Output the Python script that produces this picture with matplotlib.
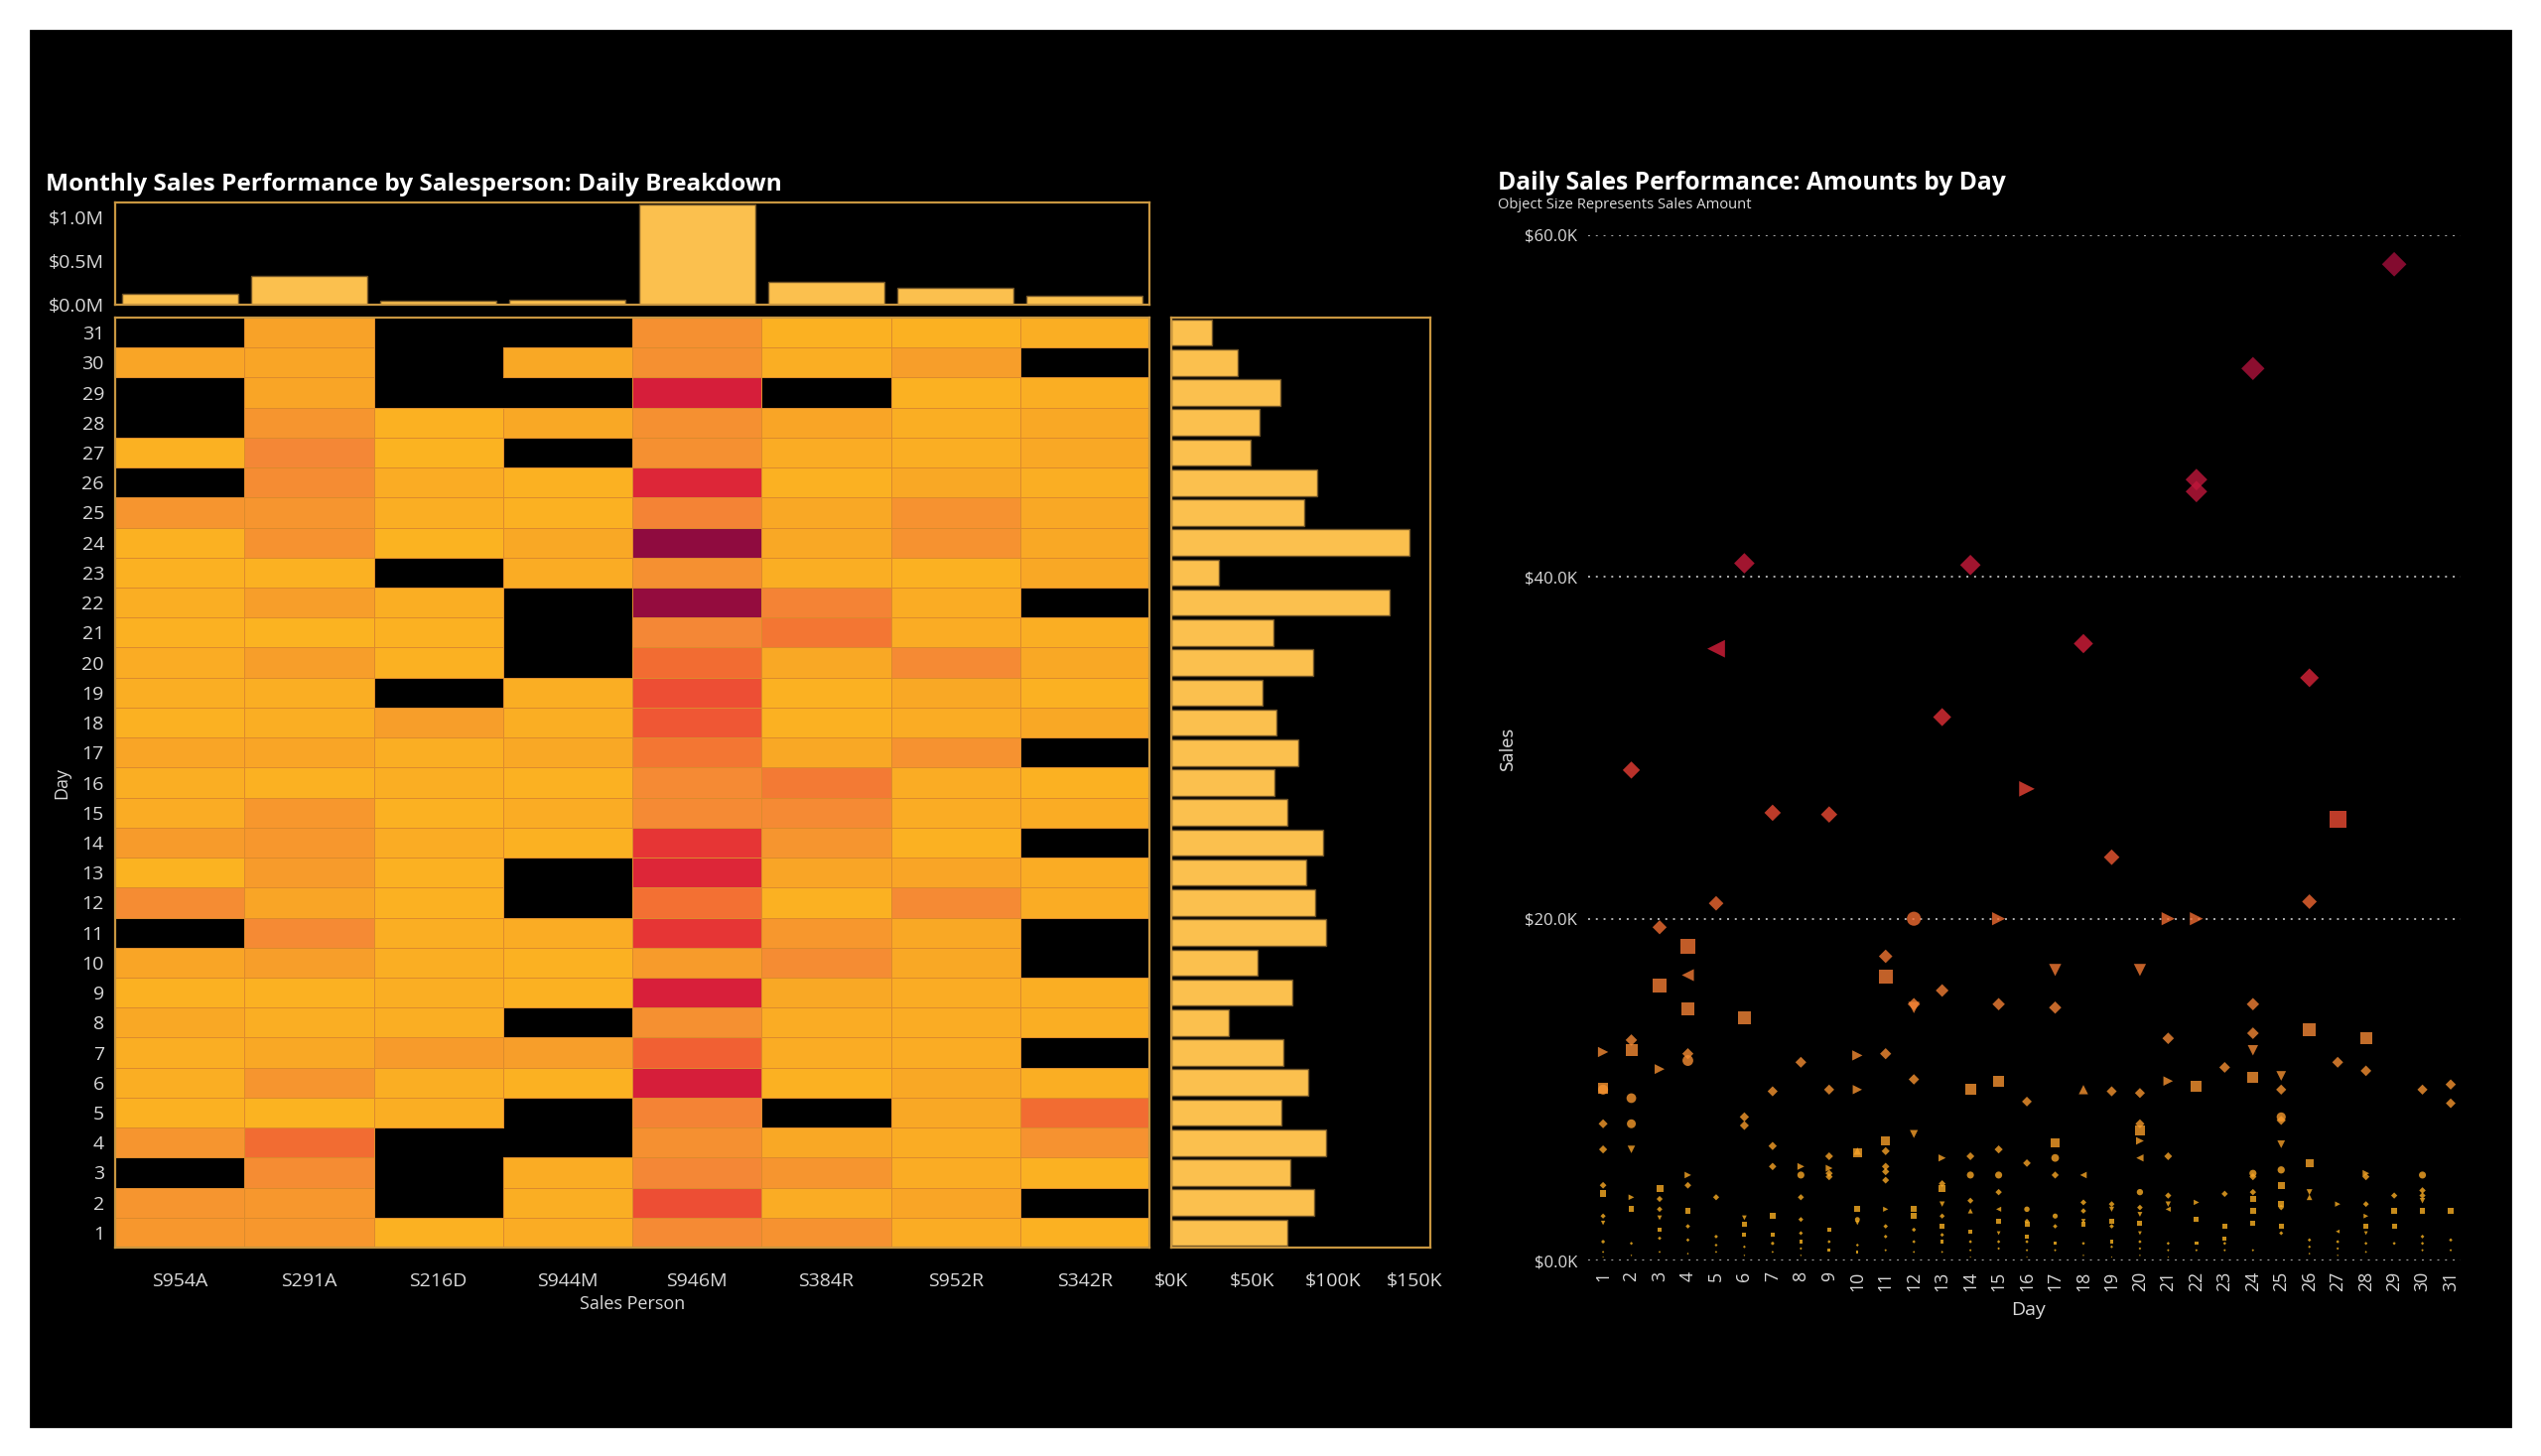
import numpy as np
import matplotlib
matplotlib.use("Agg")
import matplotlib.pyplot as plt
from matplotlib.colors import LinearSegmentedColormap, Normalize, to_rgba
from matplotlib.patches import Rectangle

plt.rcParams['font.family'] = ['Open Sans', 'DejaVu Sans']

# ---------------- data ----------------
salespeople = ["S954A", "S291A", "S216D", "S944M", "S946M", "S384R", "S952R", "S342R"]
days = list(range(1, 32))
nan = np.nan

# heatmap: sales ($K) per day (rows, day 1..31) and salesperson (columns)
cell_sales_k = [
    [11, 11, 3, 5, 16, 13, 5, 3],
    [12, 11, nan, 4, 32, 5, 7, nan],
    [nan, 15, nan, 5, 17, 12, 5, 3],
    [12, 25, nan, nan, 14, 6, 5, 13],
    [3, 2, 4, nan, 18, nan, 6, 25],
    [4, 12, 4, 3, 45, 3, 6, 4],
    [4, 6, 10, 9, 28, 5, 5, nan],
    [6, 4, 4, nan, 14, 5, 5, 4],
    [3, 3, 4, 3, 44, 6, 5, 4],
    [7, 9, 4, 3, 10, 15, 6, nan],
    [nan, 16, 4, 5, 38, 11, 6, nan],
    [15, 7, 3, nan, 24, 3, 16, 5],
    [2, 10, 3, nan, 42, 7, 7, 5],
    [10, 11, 5, 3, 38, 12, 3, nan],
    [5, 11, 3, 5, 16, 16, 5, 5],
    [4, 3, 4, 3, 16, 21, 5, 3],
    [7, 7, 4, 6, 22, 6, 13, nan],
    [3, 4, 9, 4, 30, 3, 5, 6],
    [4, 4, nan, 4, 32, 3, 6, 3],
    [5, 9, 3, nan, 25, 6, 16, 6],
    [3, 2, 3, nan, 17, 22, 5, 4],
    [4, 9, 4, nan, 90, 18, 5, nan],
    [3, 3, nan, 5, 14, 4, 3, 6],
    [3, 13, 2, 6, 95, 6, 13, 6],
    [12, 12, 4, 3, 18, 6, 13, 6],
    [nan, 15, 5, 3, 42, 3, 6, 4],
    [3, 17, 2, nan, 14, 5, 4, 6],
    [nan, 12, 3, 6, 14, 7, 4, 6],
    [nan, 7, nan, nan, 45, nan, 3, 4],
    [7, 7, nan, 6, 14, 4, 9, nan],
    [nan, 8, nan, nan, 14, 3, 3, 4],
]

# monthly totals per salesperson ($M)
person_totals_m = [0.129, 0.333, 0.049, 0.053, 1.144, 0.258, 0.193, 0.102]

# daily totals ($K), day 1..31
daily_totals_k = [71.8, 88.0, 73.5, 95.5, 68.3, 84.5, 69.5, 35.3, 74.7, 53.3,
                  95.5, 89.1, 83.4, 93.8, 71.8, 63.7, 78.7, 64.8, 56.2, 87.4,
                  63.1, 134.9, 29.5, 147.0, 82.2, 90.3, 49.2, 54.4, 67.7, 41.1,
                  24.9]

# scatter: individual sales (day, amount $K, shape)
sc_day = [
    2, 5, 6, 7, 9, 13, 14, 16, 18, 19, 22, 22, 24, 26, 27, 29, 5, 26,
    12, 15, 21, 22,
    3, 4, 4, 3, 4, 6, 2, 2, 1, 4, 4, 3, 8, 10, 11, 11, 11, 12, 12, 13, 15,
    17, 17, 20, 21, 21, 12, 14, 15, 18, 24, 24, 24, 24, 26, 28, 28, 27, 23,
    22, 25, 25, 30, 31, 31, 1, 1, 7, 9, 10, 19, 20,
    1, 1, 1, 1, 1, 1, 1, 1, 1,
    2, 2, 2, 2, 2, 2, 2,
    3, 3, 3, 3, 3, 3, 3,
    4, 4, 4, 4, 4, 4,
    5, 5, 5, 5,
    6, 6, 6, 6, 6, 6, 6,
    7, 7, 7, 7, 7, 7,
    8, 8, 8, 8, 8, 8, 8, 8,
    9, 9, 9, 9, 9, 9, 9,
    10, 10, 10, 10, 10, 10, 10,
    11, 11, 11, 11, 11, 11, 11, 11, 11,
    12, 12, 12, 12, 12, 12,
    13, 13, 13, 13, 13, 13, 13, 13, 13,
    14, 14, 14, 14, 14, 14, 14, 14,
    15, 15, 15, 15, 15, 15, 15, 15,
    16, 16, 16, 16, 16, 16, 16, 16, 16,
    17, 17, 17, 17, 17, 17, 17,
    18, 18, 18, 18, 18, 18, 18,
    19, 19, 19, 19, 19, 19, 19,
    20, 20, 20, 20, 20, 20, 20, 20, 20, 20, 20, 20,
    21, 21, 21, 21, 21, 21, 21,
    22, 22, 22, 22,
    23, 23, 23, 23, 23,
    24, 24, 24, 24, 24, 24, 24,
    25, 25, 25, 25, 25, 25, 25, 25, 25,
    26, 26, 26, 26, 26, 26,
    27, 27, 27, 27, 27,
    28, 28, 28, 28, 28, 28, 28, 28,
    29, 29, 29, 29,
    30, 30, 30, 30, 30, 30, 30, 30,
    31, 31, 31,
]
sc_sales_k = [
    28.7, 35.8, 40.8, 26.2, 26.1, 31.8, 40.7, 27.6, 36.1, 23.6, 45.7, 45.0, 52.2, 34.1, 25.8, 58.3, 20.9, 21.0,
    20.0, 20.0, 20.0, 20.0,
    19.5, 18.4, 16.7, 16.1, 14.7, 14.2, 12.9, 12.3, 12.2, 12.1, 11.7, 11.2, 11.6, 12.0, 17.8, 16.6, 12.1, 15.0, 14.8, 15.8, 15.0,
    17.0, 14.8, 17.0, 13.0, 10.5, 10.6, 10.0, 10.5, 10.0, 15.0, 13.3, 12.3, 10.7, 13.5, 13.0, 11.1, 11.6, 11.3,
    10.2, 10.8, 10.0, 10.0, 10.3, 9.2, 10.1, 10.0, 9.9, 10.0, 10.0, 9.9, 9.8,
    8.0, 6.5, 4.4, 3.9, 2.6, 2.2, 1.1, 0.5, 0.2,
    9.5, 8.0, 6.5, 3.7, 3.0, 1.0, 0.3,
    4.2, 3.6, 3.0, 2.5, 1.8, 1.3, 0.5,
    5.0, 4.4, 2.9, 2.0, 1.2, 0.4,
    3.7, 1.4, 0.9, 0.5,
    8.4, 7.9, 2.5, 2.1, 1.5, 0.8, 0.3,
    6.7, 5.5, 2.6, 1.5, 1.0, 0.5,
    5.5, 5.0, 3.7, 2.4, 1.6, 1.1, 0.7, 0.3,
    6.1, 5.4, 5.1, 4.9, 1.8, 1.1, 0.6,
    6.3, 6.4, 3.0, 2.4, 2.2, 0.9, 0.5,
    7.0, 6.4, 5.5, 5.2, 4.7, 3.0, 2.0, 1.4, 0.6,
    7.4, 3.0, 2.6, 1.8, 1.1, 0.5,
    6.0, 4.5, 4.2, 3.3, 2.6, 2.0, 1.5, 1.1, 0.5,
    6.1, 5.0, 3.5, 2.9, 1.7, 1.1, 0.6, 0.2,
    6.5, 5.0, 4.0, 3.0, 2.3, 1.6, 1.1, 0.7,
    9.3, 5.7, 3.0, 2.3, 2.1, 1.4, 1.1, 0.6, 0.2,
    6.9, 6.0, 5.0, 2.6, 2.0, 1.0, 0.6,
    5.0, 3.4, 2.9, 2.3, 2.1, 1.0, 0.3,
    3.3, 3.0, 2.3, 2.0, 1.1, 0.8, 0.2,
    8.0, 7.6, 7.0, 6.0, 4.0, 3.1, 2.7, 2.2, 1.6, 1.1, 0.7, 0.3,
    6.1, 3.8, 3.3, 3.0, 1.0, 0.6, 0.2,
    3.4, 2.4, 1.0, 0.6,
    3.9, 2.0, 1.3, 1.0, 0.6,
    5.1, 4.9, 4.0, 3.6, 2.9, 2.2, 0.6,
    8.4, 8.2, 6.8, 5.3, 4.4, 3.3, 3.1, 2.0, 1.6,
    5.7, 4.0, 3.7, 1.2, 0.8, 0.4,
    3.3, 1.7, 1.1, 0.7, 0.3,
    5.1, 4.9, 3.3, 2.6, 2.0, 1.6, 1.0, 0.5,
    3.8, 2.9, 2.0, 1.0,
    5.0, 4.1, 3.8, 3.5, 2.9, 1.4, 1.0, 0.6,
    2.9, 1.2, 0.6,
]
sc_shape = [
    'D', '<', 'D', 'D', 'D', 'D', 'D', '>', 'D', 'D', 'D', 'D', 'D', 'D', 's', 'D', 'D', 'D',
    'o', '>', '>', '>',
    'D', 's', '<', 's', 's', 's', 'D', 's', '>', 'D', 'o', '>', 'D', '>', 'D', 's', 'D', 'D', 'v', 'D', 'D',
    'v', 'D', 'v', 'D', '>', 'D', 's', 's', '^', 'D', 'D', 'v', 's', 's', 's', 'D', 'D', 'D',
    's', 'v', 'D', 'D', 'D', 'D', 's', 'o', 'D', 'D', '>', 'D', 'D',
    'D', 'D', 'D', 's', 'D', 'v', 'o', 'D', 'D',
    'o', 'o', 'v', '>', 's', 'D', 'D',
    's', 'D', 'D', 'v', 's', 'D', 'D',
    '>', 'D', 's', 'D', 'D', 'D',
    'D', 'D', 'D', 'D',
    'D', 'D', 'v', 's', 's', 'D', 'D',
    'D', 'D', 's', 's', 'o', 'D',
    '>', 'o', 'D', 'D', 'D', 's', 'D', 'D',
    'D', '>', 'D', 'D', 's', 'D', 's',
    's', '^', 's', 'o', 'v', 'D', 's',
    's', 'D', 'D', 'D', 'D', '>', 'D', 'D', 'D',
    'v', 's', 's', 'D', 'D', 'D',
    '>', 'D', 's', 'v', 'D', 's', 'D', 's', 'D',
    'D', 'o', 'D', '^', 's', 'D', 'D', 'D',
    'D', 'o', 'D', '<', 's', 'v', 'D', 'D',
    'D', 'D', 'o', 'D', 's', 's', 'D', 'D', 'D',
    's', 'o', 'D', 'o', 'D', 's', 'D',
    '<', 'D', 'D', 'v', 's', 'D', 'D',
    'D', 'v', 's', 'D', 's', 'D', 'D',
    'D', 's', '>', '<', 'o', 'D', 'v', 's', 'v', 'D', 'D', 'D',
    'D', 'D', 'v', '<', 'D', 'D', 'D',
    '>', 's', 's', 'D',
    'D', 's', 's', 'D', 'D',
    'o', 'D', 'D', 's', 's', 's', 'D',
    'o', 'D', 'v', 'o', 's', 's', 'D', 's', 'D',
    's', 'v', '^', 'D', 'D', 'D',
    '>', '<', 'D', 'D', 'D',
    '>', 'D', 'D', '>', 's', 'v', 'D', 'D',
    'D', 's', 's', 'D',
    'o', 'D', 'D', 'v', 's', 'D', 'D', 'D',
    's', 'D', 'D',
]

# ---------------- style ----------------
W, H = 2560, 1467
fig = plt.figure(figsize=(12.8, 7.335), dpi=200)
fig.patch.set_facecolor('white')
fig.add_artist(Rectangle((31 / W, 1 - 1437 / H), 2498 / W, 1406 / H,
                         transform=fig.transFigure, color='black', zorder=0))

cmap = LinearSegmentedColormap.from_list('salesheat', [
    (0.00, '#FCB91E'), (0.02, '#FBB321'), (0.05, '#FAAB24'), (0.08, '#F8A128'),
    (0.12, '#F6942F'), (0.17, '#F48736'), (0.22, '#F37633'), (0.26, '#F26932'),
    (0.31, '#EE5134'), (0.38, '#E63535'), (0.44, '#D81F3A'), (0.70, '#A80F3C'),
    (1.00, '#8A0A3F')])
heat_norm = Normalize(0, 100)
scatter_norm = Normalize(0, 80)

gold = '#C89640'
bar_color = '#FBC04E'
tick_color = '#DADADA'
tick_fs = 7


def style_frame(ax):
    ax.set_facecolor('black')
    for s in ax.spines.values():
        s.set_color(gold)
        s.set_linewidth(0.8)
    ax.tick_params(length=0, colors=tick_color, labelsize=tick_fs)


# heatmap
ax_heat = fig.add_axes([116 / W, 1 - 1257 / H, 1042 / W, 937 / H])
style_frame(ax_heat)
Zraw = np.array(cell_sales_k, dtype=float)
Z = np.ma.masked_invalid(Zraw)
xe = np.arange(len(salespeople) + 1) - 0.5
ye = np.arange(len(days) + 1) + 0.5
mesh = ax_heat.pcolormesh(xe, ye, Z, cmap=cmap, norm=heat_norm, linewidth=0.3)
edge_rgba = np.array([to_rgba('#DC8A2C', 0.0 if np.isnan(v) else 1.0)
                      for v in Zraw.ravel()])
mesh.set_edgecolor(edge_rgba)
ax_heat.set_xlim(-0.5, len(salespeople) - 0.5)
ax_heat.set_ylim(0.5, len(days) + 0.5)
ax_heat.set_xticks(range(len(salespeople)))
ax_heat.set_xticklabels(salespeople)
ax_heat.set_yticks(days)
ax_heat.set_yticklabels([str(d) for d in days])
ax_heat.tick_params(axis='x', pad=9)
ax_heat.tick_params(axis='y', pad=4)

# top bars
ax_top = fig.add_axes([116 / W, 1 - 307 / H, 1042 / W, 103 / H])
style_frame(ax_top)
ax_top.bar(range(len(salespeople)), [v * 1e6 for v in person_totals_m], width=0.9,
           color=bar_color, edgecolor='#6E5226', linewidth=0.5)
ax_top.set_xlim(-0.5, len(salespeople) - 0.5)
ax_top.set_ylim(0, 1.17e6)
ax_top.set_xticks([])
ax_top.set_yticks([0, 0.5e6, 1.0e6])
ax_top.set_yticklabels(['$0.0M', '$0.5M', '$1.0M'])
ax_top.tick_params(axis='y', pad=4)

# right bars
ax_right = fig.add_axes([1180 / W, 1 - 1257 / H, 261 / W, 937 / H])
style_frame(ax_right)
ax_right.barh(days, [v * 1e3 for v in daily_totals_k], height=0.88,
              color=bar_color, edgecolor='#6E5226', linewidth=0.5)
ax_right.set_ylim(0.5, len(days) + 0.5)
ax_right.set_xlim(0, 160000)
ax_right.set_yticks([])
ax_right.set_xticks([0, 50000, 100000, 150000])
ax_right.set_xticklabels(['$0K', '$50K', '$100K', '$150K'])
ax_right.tick_params(axis='x', pad=9)

# scatter
ax_sc = fig.add_axes([1600 / W, 1 - 1270 / H, 879 / W, 1033 / H])
ax_sc.set_facecolor('none')
for s in ax_sc.spines.values():
    s.set_visible(False)
ax_sc.set_xlim(0.47, 31.35)
ax_sc.set_ylim(0, 60000)
ax_sc.set_yticks([0, 20000, 40000, 60000])
ax_sc.set_yticklabels(['$0.0K', '$20.0K', '$40.0K', '$60.0K'])
ax_sc.set_xticks(days)
ax_sc.set_xticklabels([str(d) for d in days], rotation=90)
ax_sc.tick_params(length=0, colors=tick_color)
ax_sc.tick_params(axis='y', labelsize=6, pad=4)
ax_sc.tick_params(axis='x', labelsize=6.4, pad=4)
ax_sc.yaxis.grid(True, linestyle=(0, (1, 3)), color='#B0B0B0', linewidth=0.7)
ax_sc.set_axisbelow(True)

shape_scale = {'D': 0.68, 's': 1.5, 'o': 1.3, '>': 1.15, '<': 1.15, 'v': 1.15, '^': 1.15}
sd = np.array(sc_day, dtype=float)
sv = np.array(sc_sales_k, dtype=float)
sm = np.array(sc_shape)
for mk in ['D', 's', 'o', '>', '<', 'v', '^']:
    idx = np.where(sm == mk)[0]
    if len(idx) == 0:
        continue
    idx = idx[np.argsort(-sv[idx])]
    ax_sc.scatter(sd[idx], sv[idx] * 1000, s=sv[idx] * shape_scale[mk], marker=mk,
                  c=sv[idx], cmap=cmap, norm=scatter_norm, alpha=0.8,
                  linewidths=0, clip_on=False, zorder=3)

# texts
fig.text(46 / W, 1 - 192 / H, "Monthly Sales Performance by Salesperson: Daily Breakdown",
         fontsize=8.8, fontweight='bold', color='white', va='baseline', ha='left')
fig.text(1509 / W, 1 - 191 / H, "Daily Sales Performance: Amounts by Day",
         fontsize=8.85, fontweight='bold', color='white', va='baseline', ha='left')
fig.text(1509 / W, 1 - 210 / H, "Object Size Represents Sales Amount",
         fontsize=5.3, color='#DDDDDD', va='baseline', ha='left')
fig.text(637 / W, 1 - 1314 / H, "Sales Person", fontsize=6.5, color=tick_color,
         ha='center', va='center')
fig.text(62 / W, 1 - 789 / H, "Day", fontsize=6.5, color=tick_color,
         ha='center', va='center', rotation=90)
fig.text(1519 / W, 1 - 754 / H, "Sales", fontsize=6, color=tick_color,
         ha='center', va='center', rotation=90, family='DejaVu Sans')
fig.text(2043 / W, 1 - 1320 / H, "Day", fontsize=7, color=tick_color,
         ha='center', va='center')

fig.savefig('out.png', dpi=200, facecolor='white')
